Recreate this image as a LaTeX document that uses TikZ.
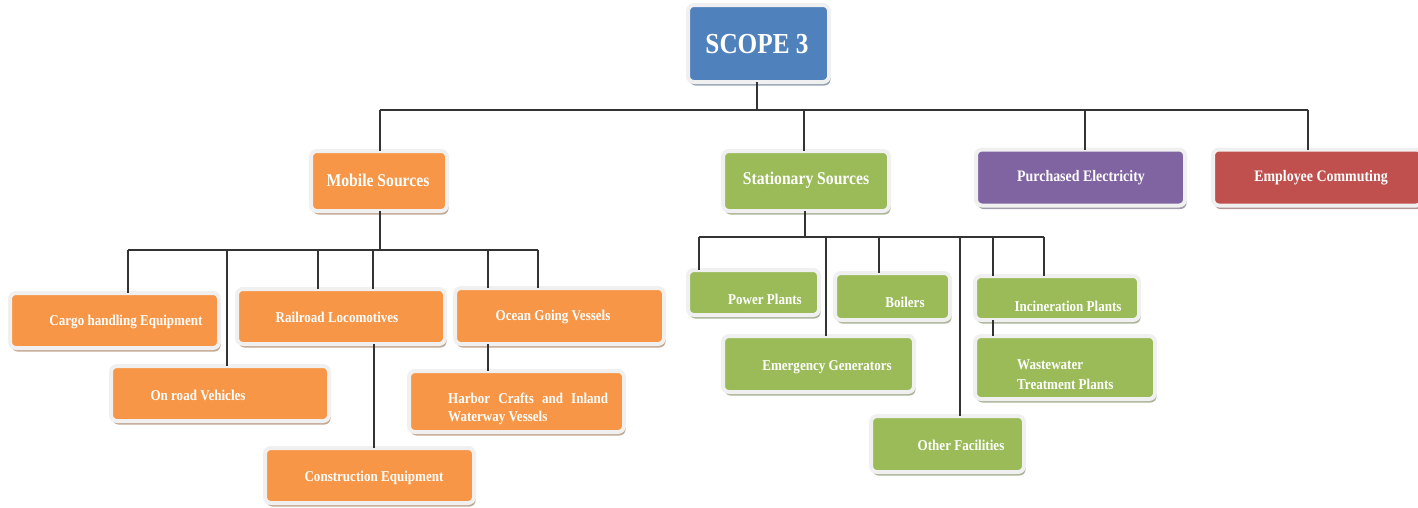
\documentclass[tikz,border=0pt]{standalone}
\usepackage{fontspec}
\setmainfont{Liberation Serif}[FakeStretch=0.87]
\usetikzlibrary{shadows}
\definecolor{cblue}{HTML}{4F81BD}
\definecolor{corange}{HTML}{F79646}
\definecolor{cgreen}{HTML}{9BBB59}
\definecolor{cpurple}{HTML}{8064A2}
\definecolor{cred}{HTML}{C0504D}
\definecolor{rim}{HTML}{F0F0F0}
\definecolor{wirec}{HTML}{333333}
\tikzset{
  box/.style={rectangle, rounded corners=6pt, draw=rim, line width=4pt, inner sep=0pt, outer sep=0pt},
  shade box/.style={drop shadow={shadow xshift=1.5pt, shadow yshift=-3.5pt, fill=#1!55!black, opacity=0.5}},
  bluebox/.style={box, fill=cblue, shade box=cblue},
  orbox/.style={box, fill=corange, shade box=corange},
  grbox/.style={box, fill=cgreen, shade box=cgreen},
  pubox/.style={box, fill=cpurple, shade box=cpurple},
  rdbox/.style={box, fill=cred, shade box=cred},
  lbl/.style={text=white, font=\bfseries\fontsize{15}{18}\selectfont, inner sep=0pt},
  midlbl/.style={lbl, font=\bfseries\fontsize{18}{20}\selectfont},
  toplbl/.style={lbl, font=\bfseries\fontsize{16}{18}\selectfont},
  wire/.style={draw=wirec, line width=1.2pt}
}
\begin{document}
\begin{tikzpicture}[x=1pt, y=-1pt]
\useasboundingbox (0,0) rectangle (1418,507);

% ---- boxes ----
\node[bluebox, minimum width=141, minimum height=77] (scope) at (758.5,43.5) {};
\node[lbl, font=\bfseries\fontsize{29}{32}\selectfont] (scope-t) at (757,44) {SCOPE 3};

\node[orbox, minimum width=136, minimum height=60] (mobile) at (379,181) {};
\node[midlbl] (mobile-t) at (378,180) {Mobile Sources};
\node[grbox, minimum width=166, minimum height=60] (stat) at (806,181) {};
\node[midlbl] (stat-t) at (806,180) {Stationary Sources};
\node[pubox, minimum width=209, minimum height=56] (purch) at (1080.5,177.5) {};
\node[toplbl] (purch-t) at (1081,178) {Purchased Electricity};
\node[rdbox, minimum width=209, minimum height=56] (empl) at (1317.5,177.5) {};
\node[toplbl] (empl-t) at (1321,178) {Employee Commuting};

% mobile sources
\node[orbox, minimum width=209, minimum height=55] (cargo) at (114.5,320.5) {};
\node[lbl] (cargo-t) at (126,322) {Cargo handling Equipment};
\node[orbox, minimum width=208, minimum height=55] (rail) at (341,316.5) {};
\node[lbl] (rail-t) at (337,317) {Railroad Locomotives};
\node[orbox, minimum width=218, minimum height=55] (onroad) at (220,393.5) {};
\node[lbl] (onroad-t) at (198,395) {On road Vehicles};
\node[orbox, minimum width=209, minimum height=55] (constr) at (369.5,475.5) {};
\node[lbl] (constr-t) at (374,478) {Construction Equipment};
\node[orbox, minimum width=209, minimum height=56] (ocean) at (559.5,316) {};
\node[lbl] (ocean-t) at (553,317) {Ocean Going Vessels};
\node[orbox, minimum width=215, minimum height=61] (harbor) at (516.5,401.5) {};
\node[lbl, anchor=west, align=left] (harbor-t) at (448,409) {\makebox[160pt][s]{Harbor Crafts and Inland}\\Waterway Vessels};

% stationary sources
\node[grbox, minimum width=131, minimum height=45] (power) at (753.5,292.5) {};
\node[lbl] (power-t) at (765,299) {Power Plants};
\node[grbox, minimum width=115, minimum height=47] (boil) at (892.5,296.5) {};
\node[lbl] (boil-t) at (905,302) {Boilers};
\node[grbox, minimum width=164, minimum height=44] (incin) at (1057,298) {};
\node[lbl] (incin-t) at (1068,306) {Incineration Plants};
\node[grbox, minimum width=191, minimum height=56] (emerg) at (818.5,364) {};
\node[lbl] (emerg-t) at (827,367) {Emergency Generators};
\node[grbox, minimum width=180, minimum height=63] (waste) at (1065,367.5) {};
\node[lbl, anchor=west, align=left, font=\bfseries\fontsize{15}{20}\selectfont] (waste-t) at (1017,375) {Wastewater\\Treatment Plants};
\node[grbox, minimum width=153, minimum height=56] (other) at (947.5,444) {};
\node[lbl] (other-t) at (961,445) {Other Facilities};

% ---- connectors ----
\coordinate (t0) at (757,110);
\coordinate (tL) at (380,110);
\coordinate (tS) at (804,110);
\coordinate (tP) at (1085,110);
\coordinate (tR) at (1308,110);
\draw[wire] (scope.south -| t0) -- (t0);
\draw[wire] (tL) -- (tR);
\draw[wire] (tL) -- (tL |- mobile.north);
\draw[wire] (tS) -- (tS |- stat.north);
\draw[wire] (tP) -- (tP |- purch.north);
\draw[wire] (tR) -- (tR |- empl.north);

\coordinate (m0) at (380,250);
\coordinate (m1) at (128,250);
\coordinate (m2) at (227,250);
\coordinate (m3) at (318,250);
\coordinate (m4) at (373,250);
\coordinate (m5) at (488,250);
\coordinate (m6) at (538,250);
\draw[wire] (mobile.south -| m0) -- (m0);
\draw[wire] (m1) -- (m6);
\draw[wire] (m1) -- (m1 |- cargo.north);
\draw[wire] (m2) -- (m2 |- onroad.north);
\draw[wire] (m3) -- (m3 |- rail.north);
\draw[wire] (m4) -- (m4 |- rail.north);
\draw[wire] (m5) -- (m5 |- ocean.north);
\draw[wire] (m6) -- (m6 |- ocean.north);
\coordinate (r0) at (374,400);
\draw[wire] (r0 |- rail.south) -- (r0 |- constr.north);
\coordinate (o0) at (488,400);
\draw[wire] (o0 |- ocean.south) -- (o0 |- harbor.north);

\coordinate (s0) at (805,237);
\coordinate (s1) at (699,237);
\coordinate (s2) at (826,237);
\coordinate (s3) at (879,237);
\coordinate (s4) at (960,237);
\coordinate (s5) at (993,237);
\coordinate (s6) at (1044,237);
\draw[wire] (stat.south -| s0) -- (s0);
\draw[wire] (s1) -- (s6);
\draw[wire] (s1) -- (s1 |- power.north);
\draw[wire] (s2) -- (s2 |- emerg.north);
\draw[wire] (s3) -- (s3 |- boil.north);
\draw[wire] (s4) -- (s4 |- other.north);
\draw[wire] (s5) -- (s5 |- incin.north);
\draw[wire] (s6) -- (s6 |- incin.north);
\draw[wire] (s5 |- incin.south) -- (s5 |- waste.north);
\end{tikzpicture}
\end{document}
